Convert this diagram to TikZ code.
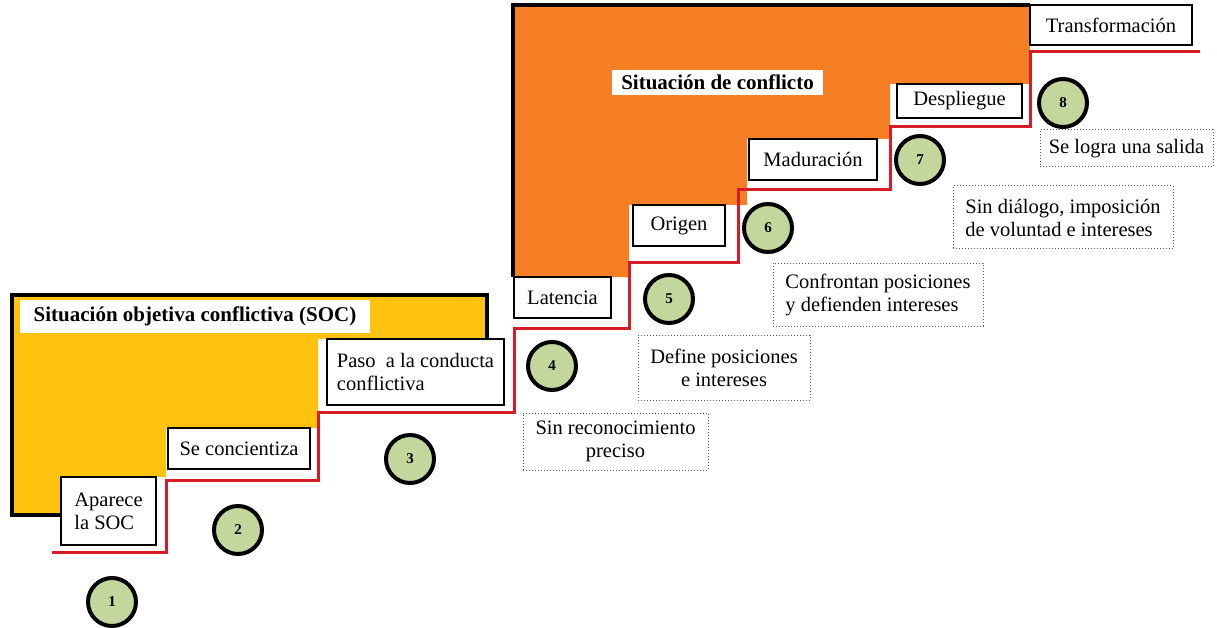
\documentclass[tikz,border=0pt]{standalone}
\usepackage{fontspec}
\setmainfont{Liberation Serif}
\definecolor{amarillo}{RGB}{255,194,14}
\definecolor{naranja}{RGB}{246,127,38}
\definecolor{verde}{RGB}{195,214,155}
\definecolor{rojo}{RGB}{214,28,40}
\begin{document}
\begin{tikzpicture}[x=1pt, y=-1pt, line join=miter,
	every node/.style={font=\fontsize{20.5}{23}\selectfont, inner sep=4pt},
	etapa/.style={draw=black, line width=1.3pt, fill=white, align=left},
	nota/.style={draw=black!65, dotted, line width=1pt, fill=white, align=left},
	paso/.style={circle, draw=black, line width=4pt, fill=verde, minimum size=48pt, inner sep=0pt, font=\fontsize{15}{15}\selectfont\bfseries},
	titulo/.style={fill=white, inner sep=3pt, font=\fontsize{21}{23}\selectfont\bfseries}]
	\useasboundingbox (0,0) rectangle (1217,628);
	% zonas de fondo
	\fill[amarillo] (12,295) -- (487,295) -- (487,339) -- (318,339) -- (318,428) -- (166,428) -- (166,477) -- (61,477) -- (61,515) -- (12,515) -- cycle;
	\fill[naranja] (513,5) -- (1030,5) -- (1030,84) -- (890,84) -- (890,139) -- (747,139) -- (747,205) -- (629,205) -- (629,277) -- (513,277) -- cycle;
	\draw[line width=4.5pt] (61,515) -- (12,515) -- (12,295) -- (487,295) -- (487,339);
	\draw[line width=4.5pt] (513,277) -- (513,5) -- (1030,5);
	% escalera
	\draw[rojo, line width=3pt] (52,552) -- (166,552) -- (166,480) -- (318,480) -- (318,412) -- (514,412) -- (514,328) -- (629,328) -- (629,262) -- (738,262) -- (738,190) -- (890,190) -- (890,127) -- (1030,127) -- (1030,52) -- (1200,52);
	\node[titulo, minimum width=350pt, minimum height=33pt] (soc) at (195,316.5) {Situación objetiva conflictiva (SOC)};
	\node[titulo, minimum width=211pt, minimum height=25pt] (conflicto) at (717.5,82.5) {Situación de conflicto};
	% etapas
	\node[etapa, minimum width=95pt, minimum height=68pt] (aparece) at (108.5,511) {Aparece\\la SOC};
	\node[etapa, minimum width=142pt, minimum height=41pt] (concientiza) at (239,448.5) {Se concientiza};
	\node[etapa, minimum width=177pt, minimum height=66pt] (conducta) at (415.5,372) {Paso\ \ a la conducta\\conflictiva};
	\node[etapa, minimum width=97pt, minimum height=41pt] (latencia) at (562.5,297.5) {Latencia};
	\node[etapa, minimum width=92pt, minimum height=41pt] (origen) at (679,225.5) {Origen};
	\node[etapa, minimum width=128pt, minimum height=41pt] (maduracion) at (813,159.5) {Maduración};
	\node[etapa, minimum width=125pt, minimum height=34pt] (despliegue) at (959.5,101) {Despliegue};
	\node[etapa, minimum width=162pt, minimum height=40pt] (transformacion) at (1111,25) {Transformación};
	% notas
	\node[nota, align=center, minimum width=185pt, minimum height=57pt] (sinrec) at (615.5,441.5) {Sin reconocimiento\\preciso};
	\node[nota, align=center, minimum width=172pt, minimum height=65pt] (define) at (724,367.5) {Define posiciones\\e intereses};
	\node[nota, minimum width=210pt, minimum height=63pt] (confrontan) at (878,294.5) {Confrontan posiciones\\y defienden\ intereses};
	\node[nota, minimum width=220pt, minimum height=63pt] (sindialogo) at (1063,217.5) {Sin diálogo,\ imposición\\de voluntad e intereses};
	\node[nota, minimum width=173pt, minimum height=37pt] (salida) at (1126.5,148.5) {Se logra una salida};
	% numeros
	\foreach \n/\x/\y in {1/112/602, 2/238/530, 3/410/459, 4/552/366, 5/669/299, 6/768/228, 7/920/160, 8/1063/103}
		\node[paso] (c\n) at (\x,\y) {\n};
\end{tikzpicture}
\end{document}
